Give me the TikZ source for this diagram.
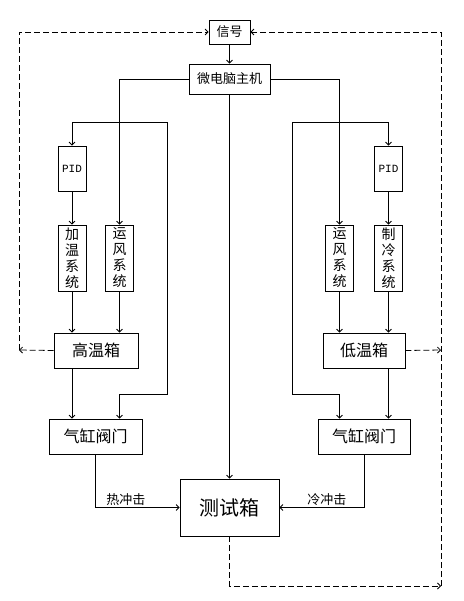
\documentclass[tikz,border=0pt]{standalone}
\usepackage{fontspec}
\newfontfamily\cjk{Noto Sans CJK SC}
\usetikzlibrary{arrows.meta,positioning,calc}
\tikzset{
	box/.style={draw, thick, inner sep=0pt, font=\cjk\fontsize{16}{18}\selectfont},
	colbox/.style={draw, thick, inner sep=0pt, minimum width=28pt, minimum height=66pt, align=center, font=\cjk\fontsize{14}{16}\selectfont},
	pidbox/.style={draw, thick, inner sep=0pt, minimum width=28pt, minimum height=45pt, font=\fontspec{Liberation Mono}\fontsize{11}{13}\selectfont},
	arr/.style={thick, -{Straight Barb[length=3pt,width=6pt]}},
	dasharr/.style={thick, dash pattern=on 6pt off 3pt, -{Straight Barb[length=3pt,width=6pt]}},
	lbl/.style={font=\cjk\fontsize{13}{15}\selectfont, inner sep=2pt}
}
\begin{document}
\begin{tikzpicture}[x=1pt,y=-1pt]
	\useasboundingbox (0,0) rectangle (463,601);
	\node[box, minimum width=41pt, minimum height=24pt, font=\cjk\fontsize{13}{15}\selectfont] (sig) at (229.5,32) {信号};
	\node[box, minimum width=81pt, minimum height=30pt, font=\cjk\fontsize{13}{15}\selectfont] (host) at (229.5,79) {微电脑主机};
	% left branch
	\node[pidbox] (pidL) at (72,168.5) {PID};
	\node[colbox] (heatL) at (72,258) {加\\温\\系\\统};
	\node[colbox] (fanL) at (119.5,258) {运\\风\\系\\统};
	\node[box, minimum width=84pt, minimum height=35pt] (hot) at (96,350.5) {高温箱};
	\node[box, minimum width=93pt, minimum height=35pt] (valveL) at (95.5,436.5) {气缸阀门};
	% right branch
	\node[pidbox] (pidR) at (388.5,168.5) {PID};
	\node[colbox] (fanR) at (339.5,258) {运\\风\\系\\统};
	\node[colbox] (coolR) at (388.5,258) {制\\冷\\系\\统};
	\node[box, minimum width=82pt, minimum height=35pt] (cold) at (364,350.5) {低温箱};
	\node[box, minimum width=92pt, minimum height=35pt] (valveR) at (364,436.5) {气缸阀门};
	\node[box, minimum width=99pt, minimum height=57pt, font=\cjk\fontsize{20}{22}\selectfont] (test) at (229.5,507.5) {测试箱};
	\coordinate (jL) at (119.5,122);
	\coordinate (jR) at (339.5,122);
	\coordinate (fbL) at (19,350);
	\coordinate (fbR) at (441,350);
	\coordinate (fbB) at (441,586);

	\draw[arr] (sig) -- (host);
	\draw[arr] (host.west) -| (fanL.north);
	\draw[arr] (host.east) -| (fanR.north);
	\draw[arr] (host.south) -- (test.north);
	\draw[arr] (jL) -| (pidL.north);
	\draw[arr] (jR) -| (pidR.north);
	\draw[arr] (jL) -- (167,122) -- (167,394) -| (fanL.south |- valveL.north);
	\draw[arr] (jR) -- (292,122) -- (292,394) -| (fanR.south |- valveR.north);
	\draw[arr] (pidL) -- (heatL);
	\draw[arr] (pidR) -- (coolR);
	\draw[arr] (heatL.south) -- (heatL.south |- hot.north);
	\draw[arr] (fanL.south) -- (fanL.south |- hot.north);
	\draw[arr] (fanR.south) -- (fanR.south |- cold.north);
	\draw[arr] (coolR.south) -- (coolR.south |- cold.north);
	\draw[arr] (hot.south -| heatL) -- (heatL |- valveL.north);
	\draw[arr] (cold.south -| coolR) -- (coolR |- valveR.north);
	\draw[arr] (valveL.south) |- node[lbl, above, pos=0.68] {热冲击} (test.west);
	\draw[arr] (valveR.south) |- node[lbl, above, pos=0.72] {冷冲击} (test.east);

	\draw[dasharr] (hot.west) -- (fbL);
	\draw[dasharr] (fbL) |- (sig.west);
	\draw[dasharr] (cold.east) -- (fbR);
	\draw[dasharr] (test.south) |- (fbB);
	\draw[dasharr] (fbB) |- (sig.east);
\end{tikzpicture}
\end{document}
